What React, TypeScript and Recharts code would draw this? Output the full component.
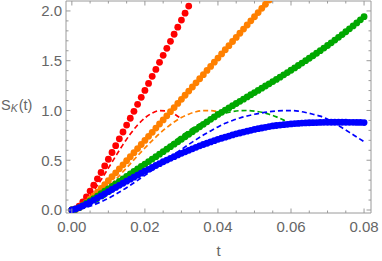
import React from 'react';
import { ComposedChart, XAxis, YAxis, Scatter, Line } from 'recharts';

// ---- data ----
const T_STEP = 0.001;

const redDots = [0, 0.011, 0.04, 0.082, 0.132, 0.19, 0.25, 0.313, 0.377, 0.443, 0.51, 0.578, 0.646, 0.715, 0.784, 0.853, 0.922, 0.992, 1.062, 1.132, 1.202, 1.272, 1.343, 1.413, 1.484, 1.554, 1.625, 1.695, 1.766, 1.837, 1.908, 1.978, 2.049];

const orangeDots = [0, 0.006, 0.022, 0.046, 0.075, 0.108, 0.143, 0.179, 0.217, 0.255, 0.294, 0.334, 0.374, 0.414, 0.454, 0.495, 0.535, 0.576, 0.617, 0.658, 0.699, 0.74, 0.781, 0.823, 0.864, 0.905, 0.946, 0.988, 1.029, 1.071, 1.112, 1.153, 1.195, 1.236, 1.278, 1.319, 1.36, 1.402, 1.443, 1.485, 1.527, 1.568, 1.61, 1.651, 1.693, 1.734, 1.776, 1.818, 1.859, 1.901, 1.942, 1.984, 2.026, 2.067, 2.109];

const greenDots = [0, 0.007, 0.024, 0.045, 0.068, 0.091, 0.115, 0.14, 0.164, 0.189, 0.213, 0.238, 0.263, 0.287, 0.312, 0.337, 0.362, 0.387, 0.412, 0.437, 0.462, 0.487, 0.512, 0.536, 0.561, 0.586, 0.611, 0.636, 0.661, 0.686, 0.711, 0.736, 0.761, 0.786, 0.811, 0.836, 0.861, 0.886, 0.911, 0.935, 0.96, 0.982, 1.004, 1.026, 1.048, 1.07, 1.092, 1.114, 1.136, 1.158, 1.18, 1.202, 1.224, 1.246, 1.268, 1.29, 1.312, 1.335, 1.358, 1.381, 1.404, 1.428, 1.452, 1.476, 1.5, 1.525, 1.55, 1.575, 1.601, 1.627, 1.653, 1.68, 1.707, 1.735, 1.763, 1.791, 1.82, 1.85, 1.88, 1.911, 1.943];

const blueDots = [0, 0.01, 0.025, 0.042, 0.06, 0.08, 0.1, 0.121, 0.142, 0.163, 0.185, 0.206, 0.227, 0.248, 0.269, 0.29, 0.31, 0.33, 0.35, 0.37, 0.39, 0.409, 0.428, 0.447, 0.466, 0.485, 0.502, 0.519, 0.536, 0.553, 0.57, 0.585, 0.6, 0.615, 0.63, 0.645, 0.658, 0.671, 0.684, 0.697, 0.71, 0.721, 0.732, 0.743, 0.754, 0.765, 0.774, 0.783, 0.792, 0.801, 0.81, 0.817, 0.824, 0.831, 0.838, 0.845, 0.849, 0.853, 0.857, 0.861, 0.865, 0.868, 0.87, 0.873, 0.875, 0.877, 0.878, 0.879, 0.88, 0.881, 0.882, 0.882, 0.882, 0.882, 0.882, 0.882, 0.881, 0.881, 0.88, 0.88, 0.879];

const redDashT = [0, 0.002, 0.004, 0.006, 0.008, 0.01, 0.012, 0.014, 0.016, 0.018, 0.02, 0.022, 0.024, 0.026, 0.028, 0.0296];
const redDashV = [0, 0.033, 0.102, 0.195, 0.303, 0.421, 0.541, 0.657, 0.763, 0.854, 0.925, 0.974, 0.998, 0.995, 0.966, 0.925];

const orangeDashT = [0, 0.002, 0.004, 0.006, 0.008, 0.01, 0.012, 0.014, 0.016, 0.018, 0.02, 0.022, 0.024, 0.026, 0.028, 0.03, 0.032, 0.034, 0.036, 0.038, 0.04, 0.0415];
const orangeDashV = [0, 0.017, 0.053, 0.103, 0.163, 0.231, 0.306, 0.384, 0.464, 0.545, 0.623, 0.697, 0.767, 0.829, 0.884, 0.929, 0.963, 0.987, 0.998, 0.998, 0.987, 0.97];

const greenDashT = [0, 0.002, 0.004, 0.006, 0.008, 0.01, 0.012, 0.014, 0.016, 0.018, 0.02, 0.022, 0.024, 0.026, 0.028, 0.03, 0.032, 0.034, 0.036, 0.038, 0.04, 0.042, 0.044, 0.046, 0.048, 0.05, 0.052, 0.054, 0.056, 0.058, 0.0597];
const greenDashV = [0, 0.011, 0.035, 0.069, 0.109, 0.156, 0.208, 0.264, 0.324, 0.385, 0.447, 0.51, 0.572, 0.633, 0.69, 0.746, 0.797, 0.844, 0.885, 0.921, 0.95, 0.973, 0.989, 0.998, 1.0, 0.994, 0.982, 0.962, 0.936, 0.903, 0.871];

const blueDashT = [0, 0.002, 0.004, 0.006, 0.008, 0.01, 0.012, 0.014, 0.016, 0.018, 0.02, 0.022, 0.024, 0.026, 0.028, 0.03, 0.032, 0.034, 0.036, 0.038, 0.04, 0.042, 0.044, 0.046, 0.048, 0.05, 0.052, 0.054, 0.056, 0.058, 0.06, 0.062, 0.064, 0.066, 0.068, 0.07, 0.072, 0.074, 0.076, 0.078, 0.08];
const blueDashV = [0, 0.0085, 0.027, 0.052, 0.083, 0.118, 0.158, 0.202, 0.249, 0.298, 0.348, 0.4, 0.453, 0.506, 0.558, 0.609, 0.659, 0.707, 0.753, 0.795, 0.835, 0.871, 0.9, 0.925, 0.945, 0.962, 0.976, 0.987, 0.994, 0.998, 0.999, 0.993, 0.98, 0.962, 0.943, 0.913, 0.872, 0.826, 0.78, 0.733, 0.686];

const xMajor = [0, 0.02, 0.04, 0.06, 0.08];
const xLabels = ['0.00', '0.02', '0.04', '0.06', '0.08'];
const xMinor = [0.005, 0.01, 0.015, 0.025, 0.03, 0.035, 0.045, 0.05, 0.055, 0.065, 0.07, 0.075];
const yMajor = [0, 0.5, 1, 1.5, 2];
const yLabels = ['0.0', '0.5', '1.0', '1.5', '2.0'];
const yMinor = [0.1, 0.2, 0.3, 0.4, 0.6, 0.7, 0.8, 0.9, 1.1, 1.2, 1.3, 1.4, 1.6, 1.7, 1.8, 1.9];

const X_DOMAIN: [number, number] = [-0.0016, 0.0819];
const Y_DOMAIN: [number, number] = [-0.03, 2.1];

// ---- styling ----
const RED = '#ff0000';
const ORANGE = '#ff8000';
const GREEN = '#00a800';
const BLUE = '#0000ff';
const AXIS_COLOR = '#9a9a9a';
const LABEL_COLOR = '#666666';
const FONT = '"Liberation Sans", Arial, Helvetica, sans-serif';
const DOT_R = 3.4;

const toPts = (vals: number[]) => vals.map((v, i) => ({ t: +(i * T_STEP).toFixed(4), v }));
const toLine = (ts: number[], vs: number[]) => ts.map((t, i) => ({ t, v: vs[i] }));

const xTicks = [...xMajor, ...xMinor].sort((a, b) => a - b);
const yTicks = [...yMajor, ...yMinor].sort((a, b) => a - b);

const majorIndex = (v: number, majors: number[]) => majors.findIndex((m) => Math.abs(m - v) < 1e-9);

const BottomTick = (p: any) => {
  const idx = majorIndex(p.payload.value, xMajor);
  const major = idx >= 0;
  return (
    <g>
      <line x1={p.x} x2={p.x} y1={p.y} y2={p.y - (major ? 4.5 : 2.5)} stroke={AXIS_COLOR} strokeWidth={1} />
      {major && (
        <text x={p.x} y={p.y + 19} textAnchor="middle" fill={LABEL_COLOR} fontSize={15} fontFamily={FONT}>
          {xLabels[idx]}
        </text>
      )}
    </g>
  );
};

const TopTick = (p: any) => {
  const major = majorIndex(p.payload.value, xMajor) >= 0;
  return <line x1={p.x} x2={p.x} y1={p.y} y2={p.y + (major ? 4.5 : 2.5)} stroke={AXIS_COLOR} strokeWidth={1} />;
};

const LeftTick = (p: any) => {
  const idx = majorIndex(p.payload.value, yMajor);
  const major = idx >= 0;
  return (
    <g>
      <line x1={p.x} x2={p.x + (major ? 4.5 : 2.5)} y1={p.y} y2={p.y} stroke={AXIS_COLOR} strokeWidth={1} />
      {major && (
        <text x={p.x - 4} y={p.y + 5.4} textAnchor="end" fill={LABEL_COLOR} fontSize={15} fontFamily={FONT}>
          {yLabels[idx]}
        </text>
      )}
    </g>
  );
};

const RightTick = (p: any) => {
  const major = majorIndex(p.payload.value, yMajor) >= 0;
  return <line x1={p.x} x2={p.x - (major ? 4.5 : 2.5)} y1={p.y} y2={p.y} stroke={AXIS_COLOR} strokeWidth={1} />;
};

const dotShape = (color: string) => (props: any) =>
  props.cx == null || props.cy == null ? <g /> : <circle cx={props.cx} cy={props.cy} r={DOT_R} fill={color} />;

const YLabel = () => (
  <text x={1} y={110} fill={LABEL_COLOR} fontSize={14.5} fontFamily={FONT}>
    <tspan>S</tspan>
    <tspan fontStyle="italic" fontSize={10.5} dy={2}>K</tspan>
    <tspan dy={-2} dx={1}>(t)</tspan>
  </text>
);

const XLabel = () => (
  <text x={218.5} y={256} textAnchor="middle" fill={LABEL_COLOR} fontSize={15} fontFamily={FONT}>
    t
  </text>
);

export default function App() {
  const dashProps = { strokeWidth: 1.7, strokeDasharray: '5 3', dot: false, activeDot: false, isAnimationActive: false, type: 'monotone' as const, dataKey: 'v' };
  return (
    <div style={{ position: 'absolute', left: 0, top: 0 }}>
      <ComposedChart width={382} height={261} margin={{ top: 0, right: 10, bottom: 47, left: 65 }}>
        <XAxis
          xAxisId={0}
          dataKey="t"
          type="number"
          domain={X_DOMAIN}
          allowDataOverflow
          ticks={xTicks}
          interval={0}
          tick={<BottomTick />}
          tickLine={false}
          tickSize={0}
          tickMargin={0}
          height={1}
          axisLine={{ stroke: AXIS_COLOR }}
          label={{ content: () => <XLabel /> }}
        />
        <XAxis
          xAxisId="top"
          orientation="top"
          dataKey="t"
          type="number"
          domain={X_DOMAIN}
          allowDataOverflow
          ticks={xTicks}
          interval={0}
          tick={<TopTick />}
          tickLine={false}
          tickSize={0}
          tickMargin={0}
          height={1}
          axisLine={{ stroke: AXIS_COLOR }}
        />
        <YAxis
          yAxisId={0}
          type="number"
          domain={Y_DOMAIN}
          allowDataOverflow
          ticks={yTicks}
          interval={0}
          tick={<LeftTick />}
          tickLine={false}
          tickSize={0}
          tickMargin={0}
          width={1}
          axisLine={{ stroke: AXIS_COLOR }}
          label={{ content: () => <YLabel /> }}
        />
        <YAxis
          yAxisId="right"
          orientation="right"
          type="number"
          domain={Y_DOMAIN}
          allowDataOverflow
          ticks={yTicks}
          interval={0}
          tick={<RightTick />}
          tickLine={false}
          tickSize={0}
          tickMargin={0}
          width={1}
          axisLine={{ stroke: AXIS_COLOR }}
        />
        <Scatter data={toPts(redDots)} dataKey="v" fill={RED} shape={dotShape(RED)} isAnimationActive={false} />
        <Line data={toLine(redDashT, redDashV)} stroke={RED} {...dashProps} />
        <Scatter data={toPts(orangeDots)} dataKey="v" fill={ORANGE} shape={dotShape(ORANGE)} isAnimationActive={false} />
        <Line data={toLine(orangeDashT, orangeDashV)} stroke={ORANGE} {...dashProps} />
        <Scatter data={toPts(greenDots)} dataKey="v" fill={GREEN} shape={dotShape(GREEN)} isAnimationActive={false} />
        <Line data={toLine(greenDashT, greenDashV)} stroke={GREEN} {...dashProps} />
        <Scatter data={toPts(blueDots)} dataKey="v" fill={BLUE} shape={dotShape(BLUE)} isAnimationActive={false} />
        <Line data={toLine(blueDashT, blueDashV)} stroke={BLUE} {...dashProps} />
      </ComposedChart>
    </div>
  );
}
